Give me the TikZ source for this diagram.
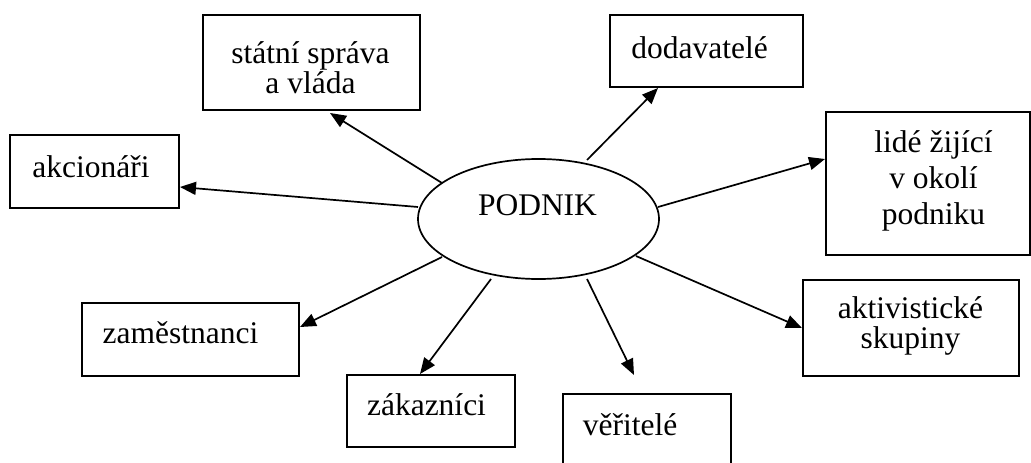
\documentclass[tikz,border=0pt]{standalone}
\usepackage{fontspec}
\setmainfont{Liberation Serif}
\usetikzlibrary{arrows.meta,calc,shapes.geometric}
\begin{document}
\begin{tikzpicture}[x=1pt,y=-1pt,
  box/.style={draw,line width=1.7pt,rectangle,inner sep=0pt},
  oval/.style={draw,line width=1.7pt,ellipse,inner sep=0pt},
  txt/.style={inner sep=0pt,anchor=base,align=center,font=\fontsize{31.5}{30}\selectfont},
  link/.style={line width=1.7pt,-{Triangle[length=16pt,width=13pt]}}]
\useasboundingbox (0,0) rectangle (1031,463);
\clip (0,0) rectangle (1031,463);
% ellipse
\node[oval,minimum width=241pt,minimum height=120pt] (p) at (538.5,219) {};
\node[txt] (pt) at (537.5,215) {PODNIK};
% boxes
\node[box,minimum width=217pt,minimum height=95pt] (st) at (311.5,62.5) {};
\node[box,minimum width=193pt,minimum height=72pt] (dod) at (706.5,51) {};
\node[box,minimum width=169pt,minimum height=73pt] (akc) at (94.5,171.5) {};
\node[box,minimum width=204pt,minimum height=143pt] (lid) at (928,183.5) {};
\node[box,minimum width=217pt,minimum height=73pt] (zam) at (190.5,339.5) {};
\node[box,minimum width=168pt,minimum height=72pt] (zak) at (431,411) {};
\node[box,minimum width=216pt,minimum height=96pt] (akt) at (911,328) {};
\node[box,minimum width=168pt,minimum height=80pt] (ver) at (647,434) {};
% texts (base anchor = baseline of last line)
\node[txt] (stt) at (310.5,93) {státní správa\\a vláda};
\node[txt] (dodt) at (699.5,58) {dodavatelé};
\node[txt] (akct) at (91,177) {akcionáři};
\node[txt,font=\fontsize{31.5}{36}\selectfont] (lidt) at (933.5,224) {lidé žijící\\v okolí\\podniku};
\node[txt] (zamt) at (180.5,343) {zaměstnanci};
\node[txt] (zakt) at (426.5,415) {zákazníci};
\node[txt,font=\fontsize{31.5}{29.5}\selectfont] (aktt) at (910.5,348) {aktivistické\\skupiny};
\node[txt] (vert) at (630,435) {věřitelé};
% connectors
\draw[link] ($(p.center)+(-96.5,-36)$) -- ($(st.center)+(18.5,50.5)$);
\draw[link] ($(p.center)+(-120.5,-12)$) -- ($(akc.center)+(85.5,15.5)$);
\draw[link] ($(p.center)+(48.5,-59)$) -- ($(dod.center)+(-48.5,37)$);
\draw[link] ($(p.center)+(119.5,-12)$) -- ($(lid.center)+(-103,-24.5)$);
\draw[link] ($(p.center)+(97.5,37)$) -- ($(akt.center)+(-109,0)$);
\draw[link] ($(p.center)+(48.5,60)$) -- ($(ver.center)+(-13,-59)$);
\draw[link] ($(p.center)+(-47.5,60)$) -- ($(zak.center)+(-11,-37)$);
\draw[link] ($(p.center)+(-96.5,38)$) -- ($(zam.center)+(109.5,-12.5)$);
\end{tikzpicture}
\end{document}
